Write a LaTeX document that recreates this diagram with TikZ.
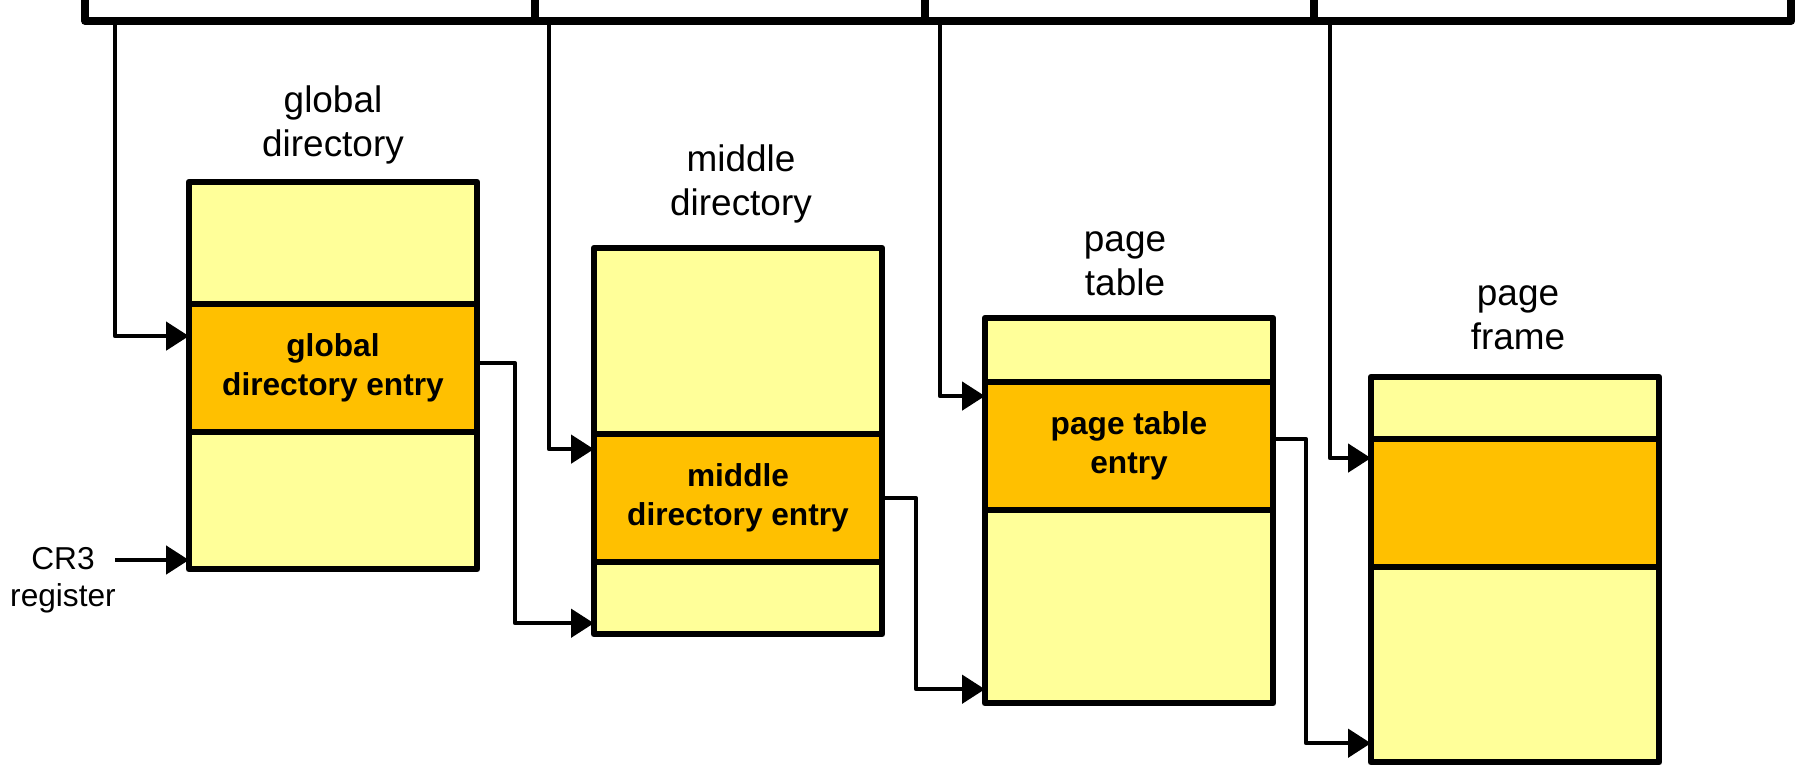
\documentclass[tikz,border=0pt]{standalone}
\usepackage{fontspec}
\setmainfont{Liberation Sans}
\usetikzlibrary{positioning,arrows.meta}
\definecolor{paleyellow}{RGB}{255,255,153}
\definecolor{amber}{RGB}{255,192,0}

\begin{document}
\begin{tikzpicture}[
    x=0.01cm, y=-0.01cm,
    node distance=0pt,
    field/.style={rectangle, draw=black, line width=2.2pt, minimum height=0.9cm, inner sep=0pt, outer sep=0pt, anchor=south west, line join=round},
    cell/.style={rectangle, draw=black, fill=paleyellow, line width=1.8pt, minimum width=2.88cm, inner sep=0pt, outer sep=0pt, line join=round, align=center},
    entry/.style={cell, fill=amber, minimum height=1.28cm, font=\fontsize{9}{11}\selectfont\bfseries},
    title/.style={align=center, font=\fontsize{10.5}{12.4}\selectfont},
    line/.style={draw=black, line width=1.2pt, line join=round, -{Triangle[length=6.5pt,width=8pt]}}
]
    \useasboundingbox (0,0) rectangle (1806,766);
    \clip (0,0) rectangle (1806,766);

    % linear address fields
    \node [field, minimum width=4.50cm] (f-dir) at (85,21) {};
    \node [field, minimum width=3.90cm] (f-mid) at (535,21) {};
    \node [field, minimum width=3.89cm] (f-tab) at (925,21) {};
    \node [field, minimum width=4.77cm] (f-off) at (1314,21) {};

    % global directory
    \node [title] (gd-title) at (333,125) {global\\directory};
    \node [cell, minimum height=1.22cm, anchor=north] (gd-top) at (333,182) {};
    \node [entry, below=of gd-top] (gd-entry) {global\\directory entry};
    \node [cell, minimum height=1.37cm, below=of gd-entry] (gd-bot) {};

    % middle directory
    \node [title] (md-title) at (741,184) {middle\\directory};
    \node [cell, minimum height=1.86cm, anchor=north] (md-top) at (738,248) {};
    \node [entry, below=of md-top] (md-entry) {middle\\directory entry};
    \node [cell, minimum height=0.72cm, below=of md-entry] (md-bot) {};

    % page table
    \node [title] (pt-title) at (1125,264) {page\\table};
    \node [cell, minimum height=0.64cm, anchor=north] (pt-top) at (1129,318) {};
    \node [entry, below=of pt-top] (pt-entry) {page table\\entry};
    \node [cell, minimum height=1.93cm, below=of pt-entry] (pt-bot) {};

    % page frame
    \node [title] (pf-title) at (1518,318) {page\\frame};
    \node [cell, minimum height=0.62cm, anchor=north] (pf-top) at (1515,377) {};
    \node [entry, below=of pf-top] (pf-entry) {};
    \node [cell, minimum height=1.95cm, below=of pf-entry] (pf-bot) {};

    % CR3
    \node [align=center, font=\fontsize{9}{10.5}\selectfont] (cr3) at (63,580) {CR3\\register};
    \coordinate (cr3tail) at (115,560);
    \path [line] (cr3tail) -- (gd-bot.west |- cr3tail);

    % offsets from the address
    \path [line] ([xshift=0.30cm]f-dir.south west) |- ([yshift=-0.32cm]gd-entry.north west);
    \path [line] ([xshift=0.14cm]f-mid.south west) |- ([yshift=-0.15cm]md-entry.north west);
    \path [line] ([xshift=0.15cm]f-tab.south west) |- ([yshift=-0.14cm]pt-entry.north west);
    \path [line] ([xshift=0.16cm]f-off.south west) |- ([yshift=-0.19cm]pf-entry.north west);

    % base pointers
    \path [line] ([yshift=0.05cm]gd-entry.east) -- ++(38,0) |- ([yshift=0.11cm]md-bot.south west);
    \path [line] (md-entry.east) -- ++(34,0) |- ([yshift=0.14cm]pt-bot.south west);
    \path [line] ([yshift=0.07cm]pt-entry.east) -- ++(33,0) |- ([yshift=0.19cm]pf-bot.south west);
\end{tikzpicture}
\end{document}
